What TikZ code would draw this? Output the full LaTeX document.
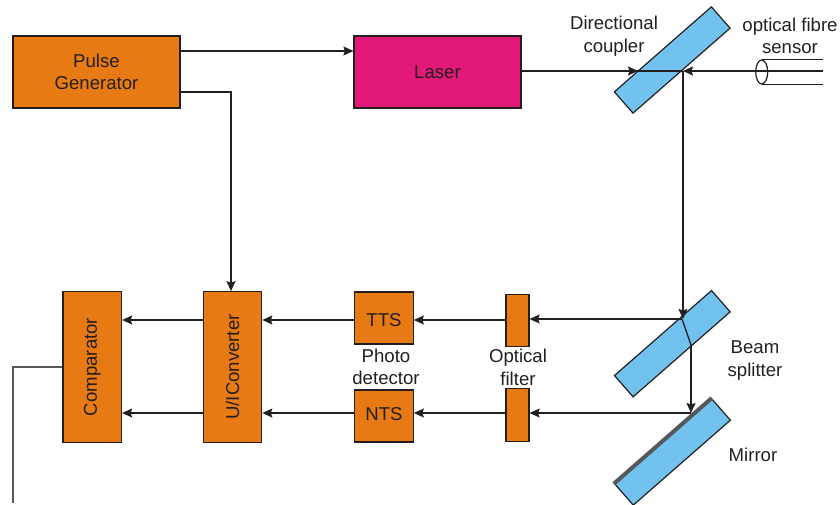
\documentclass[tikz,border=0pt]{standalone}
\usepackage{fontspec}
\setmainfont{Liberation Sans}
\usetikzlibrary{arrows.meta,shapes.geometric}
\definecolor{ink}{HTML}{231F20}
\definecolor{orangebox}{HTML}{E87A14}
\definecolor{magentabox}{HTML}{E3197A}
\definecolor{bluebox}{HTML}{72C2F0}
\definecolor{greyline}{HTML}{58585A}
\tikzset{
  every node/.style={font=\fontsize{18.6}{22.5}\selectfont,text=ink,inner sep=0pt,align=center},
  block/.style={draw=ink,line width=1.2pt,fill=orangebox},
  optic/.style={draw=ink,line width=1.2pt,fill=bluebox,rotate=41.2,minimum width=129pt,minimum height=28.3pt},
  conn/.style={draw=ink,line width=1.3pt},
  arr/.style={conn,-{Stealth[length=10pt,width=9pt,inset=1.5pt]}},
  feed/.style={draw=greyline,line width=1.3pt}
}
\begin{document}
\begin{tikzpicture}[x=1pt,y=-1pt]
\useasboundingbox (0,0) rectangle (840,505);
% blocks
\node[block,minimum width=167pt,minimum height=72pt] (pg) at (96.5,72) {Pulse\\Generator};
\node[block,fill=magentabox,minimum width=167pt,minimum height=72pt] (laser) at (437.5,72) {Laser};
\node[block,rotate=90,minimum width=150.5pt,minimum height=58.5pt] (comp) at (92.3,367) {Comparator};
\node[block,rotate=90,minimum width=150.5pt,minimum height=58.5pt] (ui) at (232.5,367) {U/IConverter};
\node[block,minimum width=58.5pt,minimum height=52pt] (tts) at (384,318) {\raisebox{-8.5pt}[0pt][0pt]{TTS}};
\node[block,minimum width=58.5pt,minimum height=52pt] (nts) at (384,416) {\raisebox{-4.5pt}[0pt][0pt]{NTS}};
\node[block,minimum width=23pt,minimum height=52.5pt] (ftop) at (517.5,320.5) {};
\node[block,minimum width=23pt,minimum height=52.5pt] (fbot) at (517.5,415) {};
% optics
\node[optic] (dc) at (672.2,60) {};
\node[optic] (bs) at (672.3,343.7) {};
\node[optic] (mir) at (672.5,452) {};
\draw[greyline,line width=4pt] (mir.north west) -- (mir.north east);
% fibre
\node[draw=ink,line width=1.2pt,ellipse,minimum width=12pt,minimum height=24pt] (fib) at (761.7,72) {};
\coordinate (fibtop) at (823,60);
\coordinate (fibmid) at (823,71);
\coordinate (fibbot) at (823,84);
\draw[conn] (fib.north) -- (fib.north -| fibtop);
\draw[conn] (fib.south) -- (fib.south -| fibbot);
% labels
\node (ldc) at (614,36) {Directional\\coupler};
\node (lfs) at (790,36) {optical fibre\\sensor};
\node (lpd) at (386,367) {Photo\\detector};
\node (lof) at (518,367.5) {Optical\\filter};
\node (lbs) at (755,360.5) {Beam\\splitter};
\node (lmi) at (753,455) {Mirror};
% junctions
\coordinate (jpg) at (231,92);
\coordinate (jdc) at (683,71);
\coordinate (tdc) at (638,71);
\coordinate (jbs) at (682,319);
\coordinate (jbo) at (691,345);
\coordinate (jmi) at (691,413);
\coordinate (jc) at (13,367);
\coordinate (jend) at (13,503);
% connectors
\draw[arr] (pg.east |- 0,51) -- (laser.west |- 0,51);
\draw[arr] (pg.east |- jpg) -- (jpg) -- (jpg |- ui.east);
\draw[conn] (laser.east |- jdc) -- (jdc);
\draw[arr] (laser.east |- tdc) -- (tdc);
\draw[arr] (fibmid) -- (jdc);
\draw[arr] (jdc) -- (jdc |- jbs);
\draw[conn] (jbs) -- (jbo);
\draw[arr] (jbo) -- (jmi);
\draw[arr] (jbs) -- (ftop.east |- jbs);
\draw[arr] (jmi) -- (fbot.east |- jmi);
\draw[arr] (ftop.west |- 0,320) -- (tts.east |- 0,320);
\draw[arr] (fbot.west |- 0,413) -- (nts.east |- 0,413);
\draw[arr] (tts.west |- 0,320) -- (ui.south |- 0,320);
\draw[arr] (nts.west |- 0,413) -- (ui.south |- 0,413);
\draw[arr] (ui.north |- 0,320) -- (comp.south |- 0,320);
\draw[arr] (ui.north |- 0,413) -- (comp.south |- 0,413);
\draw[feed] (comp.north |- jc) -- (jc) -- (jend);
\end{tikzpicture}
\end{document}
